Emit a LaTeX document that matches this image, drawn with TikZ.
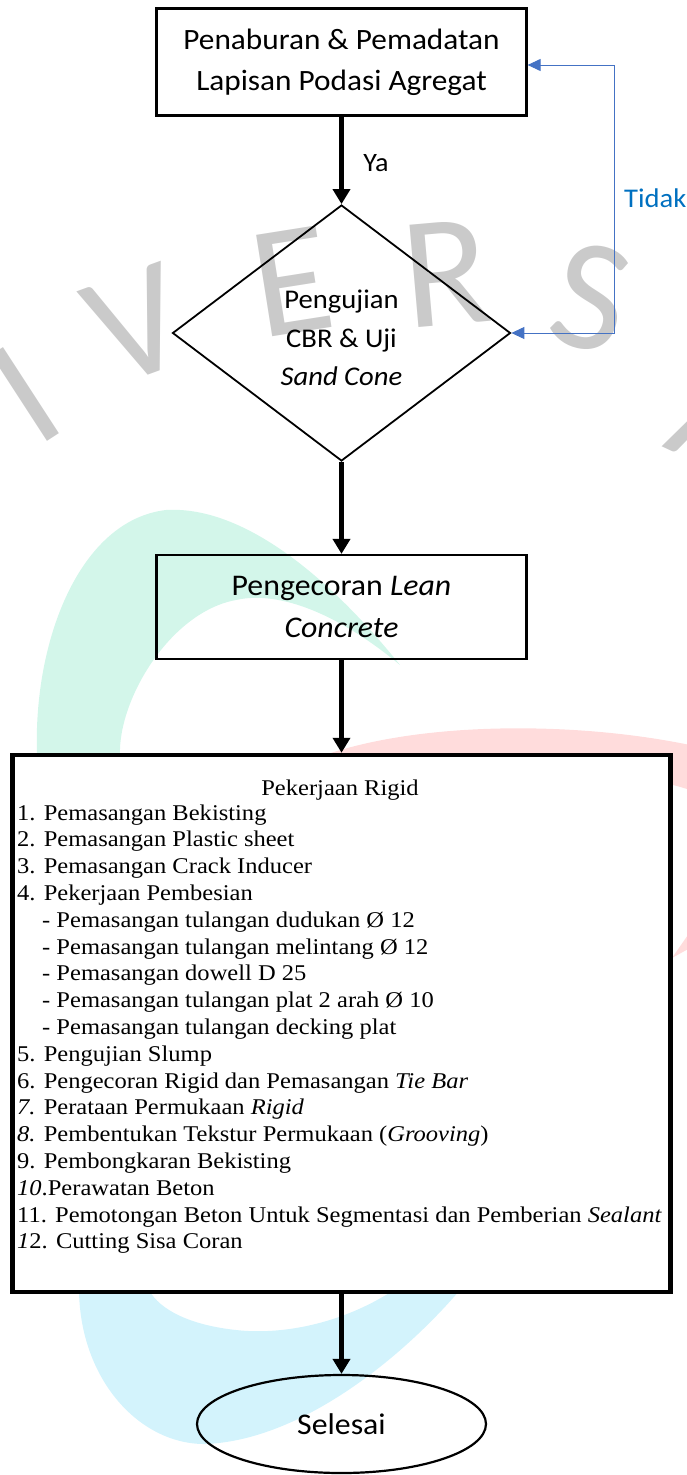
\documentclass[tikz,border=0pt]{standalone}
\usepackage{fontspec}
\setmainfont{Carlito}[FakeStretch=1.06]
\newfontfamily\tnr{Liberation Serif}[FakeStretch=1.09]
\newfontfamily\wmfont{Carlito}
\usetikzlibrary{shapes.geometric,arrows.meta}
\definecolor{mint}{HTML}{D3F6EA}
\definecolor{pinkwm}{HTML}{FFDCDC}
\definecolor{cyanwm}{HTML}{D3F3FC}
\definecolor{wmgray}{HTML}{CACACA}
\definecolor{loopblue}{HTML}{4472C4}
\definecolor{tidakblue}{HTML}{0070C0}
\begin{document}
\begin{tikzpicture}[x=1pt,y=-1pt,
  flowbox/.style={draw, line width=2.2pt, minimum width=370pt, inner sep=0pt, align=center},
  mainarrow/.style={line width=5.5pt, -{Triangle[length=15pt,width=17pt]}},
  looparrow/.style={draw=loopblue, line width=1pt, {Triangle[length=13pt,width=12pt]}-{Triangle[length=13pt,width=12pt]}},
  wmletter/.style={text=wmgray, font=\wmfont\fontsize{160}{160}\selectfont, inner sep=0pt},
  listline/.style={anchor=base west, inner sep=0pt, font=\tnr\fontsize{22.5}{26}\selectfont},
  lbl/.style={inner sep=0pt, font=\fontsize{27}{30}\selectfont}]
\useasboundingbox (0,0) rectangle (687,1475);

% watermark
\fill[mint] (37,755) .. controls (33,640) and (80,520) .. (166,510)
  .. controls (250,505) and (340,590) .. (400,665)
  .. controls (340,615) and (280,590) .. (236,600)
  .. controls (170,612) and (118,700) .. (120,755) -- cycle;
\fill[pinkwm] (290,770) .. controls (380,722) and (560,718) .. (690,745)
  -- (690,790) .. controls (600,760) and (450,770) .. (290,770) -- cycle;
\fill[pinkwm] (672,958) -- (690,932) -- (690,948) -- cycle;
\fill[cyanwm] (79,1290) .. controls (80,1380) and (140,1445) .. (206,1444)
  .. controls (300,1440) and (400,1360) .. (460,1290)
  -- (394,1290) .. controls (340,1325) and (280,1335) .. (236,1330)
  .. controls (190,1325) and (160,1310) .. (149,1290) -- cycle;
\node[wmletter, rotate=33] (wI) at (25,394) {I};
\node[wmletter, rotate=20] (wV) at (137,325) {V};
\node[wmletter, rotate=9] (wE) at (292,282) {E};
\node[wmletter, rotate=5] (wR) at (446,274) {R};
\node[wmletter, rotate=-13] (wS) at (591,298) {S};
\node[wmletter, rotate=-25] (wA) at (725,420) {A};

% nodes
\node[flowbox, minimum height=107pt, font=\fontsize{29.5}{41}\selectfont] (b1) at (341.5,62)
  {Penaburan \& Pemadatan\\Lapisan Podasi Agregat};
\node[draw, diamond, line width=1.8pt, minimum width=338pt, minimum height=256pt, inner sep=0pt] (d) at (341.5,333) {};
\node[align=center, inner sep=0pt, font=\fontsize{27}{38.5}\selectfont] (dtext) at (341.5,338)
  {Pengujian\\CBR \& Uji\\\textit{Sand Cone}};
\node[flowbox, minimum height=104pt, font=\fontsize{30}{42}\selectfont] (b2) at (341.5,607)
  {Pengecoran \textit{Lean}\\\textit{Concrete}};
\node[draw, line width=4.5pt, fill=white, minimum width=658pt, minimum height=537pt, inner sep=0pt] (b3) at (341.5,1023.5) {};
\node[draw, ellipse, line width=2.2pt, minimum width=289pt, minimum height=98pt, inner sep=0pt,
  font=\fontsize{30}{36}\selectfont] (e) at (341.5,1424) {Selesai};

% list text
\node[listline, anchor=base] (t0) at (340,795) {Pekerjaan Rigid};
\node[listline] (t1) at (17,820) {1. Pemasangan Bekisting};
\node[listline] (t2) at (17,846.8) {2. Pemasangan Plastic sheet};
\node[listline] (t3) at (17,873.6) {3. Pemasangan Crack Inducer};
\node[listline] (t4) at (17,900.4) {4. Pekerjaan Pembesian};
\node[listline] (t5) at (42,927.2) {- Pemasangan tulangan dudukan Ø 12};
\node[listline] (t6) at (42,954) {- Pemasangan tulangan melintang Ø 12};
\node[listline] (t7) at (42,980.8) {- Pemasangan dowell D 25};
\node[listline] (t8) at (42,1007.6) {- Pemasangan tulangan plat 2 arah Ø 10};
\node[listline] (t9) at (42,1034.4) {- Pemasangan tulangan decking plat};
\node[listline] (t10) at (17,1061.2) {5. Pengujian Slump};
\node[listline] (t11) at (17,1088) {6. Pengecoran Rigid dan Pemasangan \textit{Tie Bar}};
\node[listline] (t12) at (17,1114.8) {\textit{7.} Perataan Permukaan \textit{Rigid}};
\node[listline] (t13) at (17,1141.6) {\textit{8.} Pembentukan Tekstur Permukaan (\textit{Grooving})};
\node[listline] (t14) at (17,1168.4) {9. Pembongkaran Bekisting};
\node[listline] (t15) at (17,1195.2) {\textit{10}.Perawatan Beton};
\node[listline] (t16) at (17,1222) {11. Pemotongan Beton Untuk Segmentasi dan Pemberian \textit{Sealant}};
\node[listline] (t17) at (17,1248.8) {\textit{1}2. Cutting Sisa Coran};

% connectors
\draw[mainarrow] (b1.south) -- (d.north)
  node[lbl, pos=0.53, anchor=west, xshift=19pt, font=\fontsize{26.5}{30}\selectfont] (ya) {Ya};
\draw[looparrow] (d.east) -- ++(103,0) coordinate (lc) |- ([yshift=-3pt]b1.east);
\node[lbl, anchor=west, text=tidakblue] (tidak) at (624,198) {Tidak};
\draw[mainarrow] (d.south) -- (b2.north);
\draw[mainarrow] (b2.south) -- (b3.north);
\draw[mainarrow] (b3.south) -- (e.north);
\end{tikzpicture}
\end{document}
